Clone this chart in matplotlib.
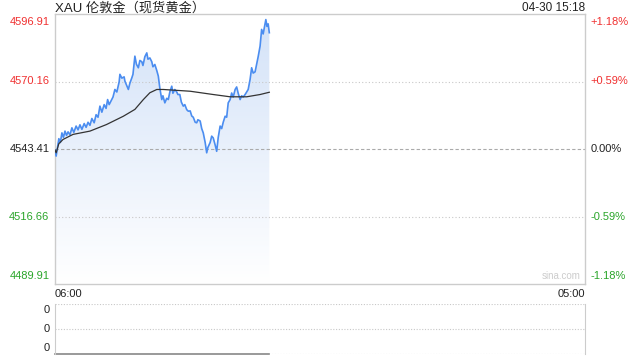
import matplotlib
matplotlib.use("Agg")
import matplotlib.pyplot as plt
import numpy as np
from matplotlib.colors import LinearSegmentedColormap

plt.rcParams['font.family'] = ['Liberation Sans', 'Noto Sans CJK SC', 'DejaVu Sans']

# minutes after 06:00 and price
minutes = [0, 3, 7, 10, 14, 18, 22, 26, 30, 34, 39, 44, 49, 55, 60, 65, 70, 76, 81, 86,
           91, 96, 102, 107, 112, 117, 122, 128, 133, 137, 141, 146, 151, 156, 161, 167,
           169, 174, 180, 182, 187, 191, 195, 200, 203, 208, 212, 217, 221, 226, 229, 234,
           239, 242, 247, 252, 255, 260, 265, 269, 273, 278, 281, 286, 291, 295, 299, 304,
           307, 312, 317, 320, 325, 329, 334, 338, 343, 347, 352, 356, 360, 365, 369, 372,
           378, 382, 386, 391, 395, 398, 404, 408, 412, 417, 421, 425, 430, 434, 438, 443,
           447, 451, 456, 460, 464, 469, 473, 477, 482, 486, 490, 495, 499, 503, 508, 512,
           516, 521, 525, 529, 534, 538, 542, 545, 549, 552, 555, 558]
price = [4543.0, 4540.6, 4544.5, 4547.5, 4546.0, 4549.8, 4548.0, 4550.5, 4548.8, 4550.2,
         4549.0, 4551.8, 4550.0, 4552.5, 4551.0, 4553.0, 4551.2, 4553.5, 4552.0, 4554.0,
         4552.8, 4555.5, 4553.8, 4557.0, 4556.0, 4560.4, 4558.0, 4561.0, 4559.5, 4563.0,
         4561.0, 4562.5, 4564.0, 4567.0, 4566.0, 4570.0, 4573.0, 4571.5, 4572.0, 4570.3,
         4568.5, 4567.0, 4569.5, 4571.6, 4573.0, 4580.2, 4577.0, 4575.6, 4578.5, 4578.0,
         4576.5, 4580.0, 4581.5, 4579.0, 4579.5, 4578.0, 4576.0, 4576.9, 4574.5, 4572.3,
         4567.5, 4563.0, 4564.5, 4561.7, 4563.5, 4563.0, 4566.0, 4568.3, 4565.5, 4567.0,
         4566.0, 4565.0, 4565.0, 4562.0, 4560.4, 4561.0, 4559.0, 4558.4, 4558.5, 4556.5,
         4556.0, 4554.0, 4553.8, 4555.0, 4554.5, 4551.5, 4549.8, 4546.0, 4541.9, 4544.0,
         4546.0, 4548.5, 4547.8, 4545.0, 4542.5, 4548.0, 4552.5, 4551.5, 4554.0, 4556.4,
         4556.0, 4561.7, 4563.0, 4565.6, 4564.0, 4567.0, 4568.0, 4565.5, 4563.0, 4564.5,
         4564.0, 4565.0, 4566.0, 4567.0, 4571.0, 4575.6, 4573.5, 4574.0, 4577.0, 4580.0,
         4584.2, 4590.8, 4589.0, 4591.5, 4594.7, 4592.0, 4593.0, 4589.5]

avg_minutes = [0, 3, 10, 21, 47, 91, 134, 178, 208, 230, 247, 265, 282, 352, 412, 456, 499, 534, 558]
avg_price = [4543.0, 4541.9, 4545.5, 4547.2, 4549.2, 4550.5, 4553.1, 4556.4, 4559.1, 4563.0,
             4565.7, 4567.0, 4567.0, 4566.3, 4565.0, 4564.1, 4564.1, 4565.0, 4565.9]

prev_close = 4543.41
y_ticks = [4596.91, 4570.16, 4543.41, 4516.66, 4489.91]
tick_colors = ['#f03030', '#f03030', '#222222', '#2aa52a', '#2aa52a']
total_minutes = 1380  # 06:00 -> 05:00

fig = plt.figure(figsize=(6.4, 3.6), dpi=100)
ax = fig.add_axes([55/640, 1-284/360, 530/640, 270/360])
ax.set_xlim(0, total_minutes)
ax.set_ylim(y_ticks[-1], y_ticks[0])
ax.set_xticks([])
ax.set_yticks([])
for s in ax.spines.values():
    s.set_color('#cccccc')
    s.set_linewidth(1)

# gradient fill under price
poly = ax.fill_between(minutes, price, y_ticks[-1], color='none')
grad = np.linspace(1, 0, 256).reshape(-1, 1)
cmap = LinearSegmentedColormap.from_list('g', ['#ffffff', '#d3e2f8'])
im = ax.imshow(grad, cmap=cmap, aspect='auto',
               extent=[0, total_minutes, y_ticks[-1], y_ticks[0]], zorder=1)
im.set_clip_path(poly.get_paths()[0], transform=ax.transData)

for v in [y_ticks[1], y_ticks[3]]:
    ax.axhline(v, color='#c8c8c8', lw=0.8, ls=(0, (1, 2)), zorder=2)
ax.axhline(prev_close, color='#aaaaaa', lw=0.8, ls=(0, (3, 2)), zorder=2)

ax.plot(minutes, price, color='#4b8df0', lw=1.2, zorder=4)
ax.plot(avg_minutes, avg_price, color='#333333', lw=0.9, zorder=5)

# axis labels
for i, (v, c) in enumerate(zip(y_ticks, tick_colors)):
    va = 'top' if i == 0 else ('bottom' if i == len(y_ticks)-1 else 'center')
    off = -2 if i == 0 else (2 if i == len(y_ticks)-1 else 0)
    pct = (v - prev_close) / prev_close * 100
    ptxt = ('+' if pct > 0.001 else '') + f"{pct:.2f}%"
    if abs(pct) < 0.001:
        ptxt = "0.00%"
    ax.annotate(f"{v:.2f}", (0, v), xytext=(-4, off), textcoords='offset points',
                ha='right', va=va, fontsize=8, color=c, annotation_clip=False)
    ax.annotate(ptxt, (1, v), xycoords=('axes fraction', 'data'), xytext=(4, off),
                textcoords='offset points', ha='left', va=va, fontsize=8, color=c,
                annotation_clip=False)

ax.text(0, -0.02, "06:00", transform=ax.transAxes, ha='left', va='top', fontsize=8, color='#222222')
ax.text(1, -0.02, "05:00", transform=ax.transAxes, ha='right', va='top', fontsize=8, color='#222222')
ax.text(0.955, 0.012, "sina.com", transform=ax.transAxes, ha='center', va='bottom',
        fontsize=7, color='#cccccc')
fig.text(55/640, 1-8/360, "XAU 伦敦金（现货黄金）", ha='left', va='center',
         fontsize=9.5, color='#222222')
fig.text(585/640, 1-8/360, "04-30 15:18", ha='right', va='center',
         fontsize=8.5, color='#222222')

# volume panel
vol = [0] * len(minutes)
ax2 = fig.add_axes([55/640, 1-354/360, 530/640, 50/360])
ax2.set_xlim(0, total_minutes)
ax2.set_ylim(0, 1)
ax2.set_xticks([])
ax2.set_yticks([])
for k in ['left', 'right']:
    ax2.spines[k].set_color('#cccccc')
for k in ['top', 'bottom']:
    ax2.spines[k].set_visible(False)
for v in [0.0, 0.5, 1.0]:
    ax2.axhline(v, color='#c8c8c8', lw=0.8, ls=(0, (1, 1.5)))
    ax2.annotate("0", (0, v), xycoords=('axes fraction', 'data'),
                 xytext=(-4, 0.5 if v == 0 else (-1 if v == 1 else 0)),
                 textcoords='offset points', ha='right',
                 va='bottom' if v == 0 else ('top' if v == 1 else 'center'),
                 fontsize=8, color='#222222', annotation_clip=False)
ax2.plot(minutes, vol, color='#888888', lw=1.2, clip_on=False)

fig.savefig("out.png", dpi=100)
